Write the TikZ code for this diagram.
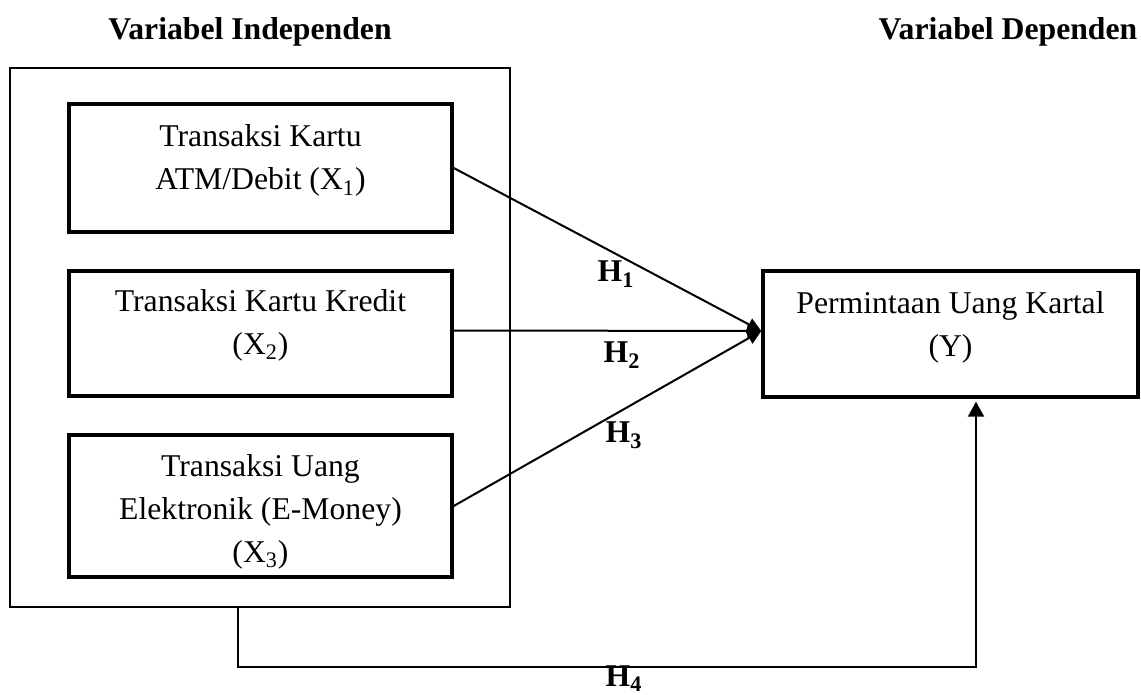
\documentclass[tikz,border=0pt]{standalone}
\usepackage{fontspec}
\setmainfont{Liberation Serif}
\usetikzlibrary{arrows.meta}
\begin{document}
\begin{tikzpicture}[x=0.5pt,y=-0.5pt,
  txt/.style={font=\fontsize{15.85pt}{21.5pt}\selectfont, inner sep=0pt, anchor=base},
  hlab/.style={font=\fontsize{15.85pt}{21.5pt}\selectfont\bfseries, inner sep=0pt, anchor=base},
  varbox/.style={draw, line width=1.7pt, inner sep=0pt, minimum width=191.5pt},
  grpbox/.style={draw, line width=0.8pt, inner sep=0pt},
  conn/.style={line width=1pt, -{Triangle[length=7pt,width=6.5pt]}},
  hconn/.style={line width=1pt, -{Triangle[length=7.5pt,width=8pt]}, shorten >=1.5pt},
]
\useasboundingbox (0,0) rectangle (1141,695);

% titles
\node[hlab] (tind) at (250,40) {Variabel Independen};
\node[hlab] (tdep) at (1008,40) {Variabel Dependen};

% group box
\node[grpbox, minimum width=250pt, minimum height=269.5pt] (outer) at (260,337.5) {};

% independent variable boxes
\node[varbox, minimum height=64pt] (b1) at (260.5,168) {};
\node[varbox, minimum height=62.5pt] (b2) at (260.5,333.5) {};
\node[varbox, minimum height=71pt] (b3) at (260.5,506) {};

\node[txt] (t1) at (260.5,147) {\begin{tabular}[t]{@{}c@{}}Transaksi Kartu\\ATM/Debit (X\textsubscript{1})\end{tabular}};
\node[txt] (t2) at (260.5,311.5) {\begin{tabular}[t]{@{}c@{}}Transaksi Kartu Kredit\\(X\textsubscript{2})\end{tabular}};
\node[txt] (t3) at (260.5,476.5) {\begin{tabular}[t]{@{}c@{}}Transaksi Uang\\Elektronik (E-Money)\\(X\textsubscript{3})\end{tabular}};

% dependent variable box
\node[varbox, minimum width=187.5pt, minimum height=63pt] (Y) at (950.5,334) {};
\node[txt] (tY) at (950.5,313.5) {\begin{tabular}[t]{@{}c@{}}Permintaan Uang Kartal\\(Y)\end{tabular}};

% connectors
\draw[conn] (b1.east) -- ([yshift=1.5pt]Y.west);
\draw[conn] ([yshift=1.5pt]b2.east) -- ([yshift=1.5pt]Y.west);
\draw[conn] (b3.east) -- ([yshift=1.5pt]Y.west);

\coordinate (h4l) at (238,667);
\coordinate (h4r) at (976,667);
\draw[hconn] (outer.south -| h4l) -- (h4l) -- (h4r) -- (Y.south -| h4r);

% hypothesis labels
\node[hlab] (H1) at (616,282) {H\textsubscript{1}};
\node[hlab] (H2) at (622,363) {H\textsubscript{2}};
\node[hlab] (H3) at (624,443) {H\textsubscript{3}};
\node[hlab] (H4) at (624,686) {H\textsubscript{4}};
\end{tikzpicture}
\end{document}
